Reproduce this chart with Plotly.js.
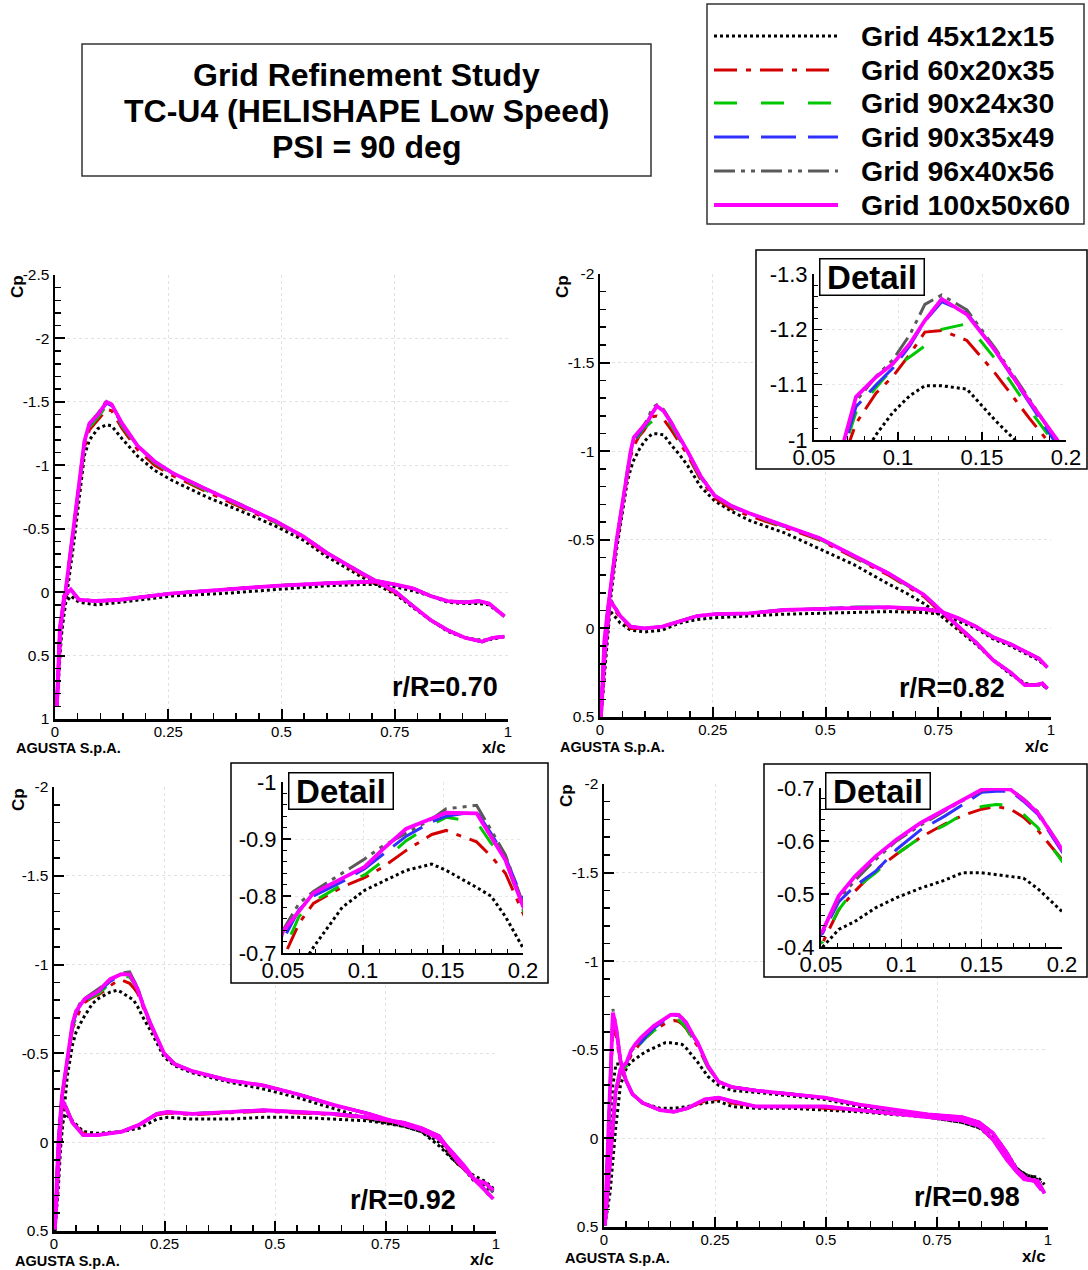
<!DOCTYPE html>
<html><head><meta charset="utf-8">
<script src="https://cdn.plot.ly/plotly-3.0.1.min.js"></script>
<style>html,body{margin:0;padding:0;background:#fff;}#chart{width:1088px;height:1270px;}</style>
</head><body><div id="chart"></div>
<script>
// ---------------- DATA ----------------
const titleLines = ['Grid Refinement Study', 'TC-U4 (HELISHAPE Low Speed)', 'PSI = 90 deg'];
const gridNames = ['Grid 45x12x15', 'Grid 60x20x35', 'Grid 90x24x30', 'Grid 90x35x49', 'Grid 96x40x56', 'Grid 100x50x60'];
const stationLabels = ['r/R=0.70', 'r/R=0.82', 'r/R=0.92', 'r/R=0.98'];
const xTicksMain = [0, 0.25, 0.5, 0.75, 1];
const yTicks070 = [-2.5, -2, -1.5, -1, -0.5, 0, 0.5, 1];
const yTicksMain = [-2, -1.5, -1, -0.5, 0, 0.5];
const xTicksDetail = [0.05, 0.1, 0.15, 0.2];
const yTicksDetail082 = [-1.3, -1.2, -1.1, -1];
const yTicksDetail092 = [-1, -0.9, -0.8, -0.7];
const yTicksDetail098 = [-0.7, -0.6, -0.5, -0.4];

// r/R = 0.70
const x070Up = [0.004,0.011,0.023,0.042,0.065,0.076,0.095,0.114,0.125,0.148,0.183,0.22,0.259,0.335,0.41,0.487,0.548,0.60,0.677,0.753,0.79,0.829,0.867,0.905,0.943,0.966,0.992];
const cp070Up45  = [0.90,0.40,0.10,-0.40,-1.08,-1.20,-1.29,-1.32,-1.31,-1.21,-1.07,-0.96,-0.88,-0.75,-0.64,-0.52,-0.41,-0.28,-0.12,0.02,0.12,0.22,0.31,0.36,0.38,0.37,0.35];
const cp070Up60  = [0.90,0.29,0.02,-0.49,-1.14,-1.28,-1.36,-1.44,-1.43,-1.29,-1.12,-1.00,-0.92,-0.79,-0.67,-0.55,-0.43,-0.30,-0.14,0.01,0.11,0.22,0.30,0.36,0.39,0.36,0.35];
const cp070Up90a = [0.90,0.28,0.01,-0.50,-1.16,-1.30,-1.38,-1.47,-1.45,-1.31,-1.14,-1.02,-0.93,-0.80,-0.68,-0.55,-0.44,-0.31,-0.15,0.0,0.11,0.22,0.30,0.36,0.39,0.36,0.35];
const cp070Up90b = [0.90,0.27,0.0,-0.52,-1.18,-1.32,-1.40,-1.49,-1.47,-1.32,-1.15,-1.03,-0.94,-0.81,-0.69,-0.56,-0.44,-0.31,-0.15,0.0,0.11,0.22,0.30,0.36,0.39,0.36,0.35];
const cp070Up96  = [0.90,0.27,0.0,-0.52,-1.19,-1.33,-1.41,-1.51,-1.48,-1.33,-1.15,-1.03,-0.94,-0.81,-0.69,-0.56,-0.44,-0.31,-0.15,0.0,0.11,0.22,0.30,0.36,0.39,0.36,0.35];
const cp070Up100 = [0.90,0.27,0.0,-0.52,-1.19,-1.33,-1.40,-1.50,-1.48,-1.33,-1.15,-1.03,-0.94,-0.81,-0.69,-0.56,-0.44,-0.31,-0.15,0.0,0.11,0.22,0.30,0.36,0.39,0.36,0.35];
const x070Lo = [0.004,0.012,0.02,0.035,0.053,0.091,0.144,0.259,0.373,0.487,0.60,0.677,0.715,0.753,0.79,0.829,0.867,0.905,0.935,0.958,0.992];
const cp070Lo45  = [0.90,0.45,0.10,0.03,0.08,0.10,0.08,0.03,0.01,-0.02,-0.05,-0.06,-0.06,-0.04,-0.01,0.03,0.08,0.09,0.09,0.10,0.19];
const cp070Lo60  = [0.90,0.32,0.04,-0.01,0.06,0.07,0.06,0.01,-0.02,-0.05,-0.07,-0.08,-0.08,-0.06,-0.03,0.03,0.07,0.08,0.07,0.09,0.19];
const cp070Lo90a = [0.90,0.31,0.03,-0.02,0.06,0.07,0.06,0.01,-0.02,-0.05,-0.07,-0.085,-0.085,-0.06,-0.03,0.03,0.07,0.08,0.07,0.09,0.19];
const cp070Lo90b = [0.90,0.30,0.03,-0.02,0.06,0.07,0.06,0.01,-0.02,-0.05,-0.07,-0.085,-0.085,-0.06,-0.03,0.03,0.07,0.08,0.07,0.09,0.19];
const cp070Lo96  = [0.90,0.30,0.03,-0.02,0.06,0.07,0.06,0.01,-0.02,-0.05,-0.07,-0.085,-0.085,-0.06,-0.03,0.03,0.07,0.08,0.075,0.09,0.19];
const cp070Lo100 = [0.90,0.30,0.03,-0.02,0.06,0.07,0.06,0.01,-0.02,-0.05,-0.07,-0.085,-0.085,-0.06,-0.03,0.03,0.07,0.08,0.07,0.09,0.19];

// r/R = 0.82
const x082Up = [0.002,0.01,0.018,0.037,0.06,0.068,0.075,0.087,0.097,0.107,0.116,0.126,0.141,0.158,0.178,0.194,0.223,0.254,0.292,0.331,0.408,0.486,0.563,0.64,0.679,0.718,0.756,0.795,0.834,0.872,0.911,0.942,0.965,0.981,0.992];
const cp082Up45  = [0.50,0.25,-0.05,-0.45,-0.82,-0.90,-0.95,-1.01,-1.05,-1.08,-1.098,-1.098,-1.092,-1.035,-0.975,-0.92,-0.80,-0.72,-0.66,-0.61,-0.54,-0.45,-0.36,-0.25,-0.20,-0.14,-0.07,0.01,0.09,0.18,0.26,0.31,0.32,0.32,0.34];
const cp082Up60  = [0.50,0.08,-0.10,-0.48,-0.85,-0.97,-1.03,-1.085,-1.115,-1.155,-1.195,-1.198,-1.18,-1.12,-1.04,-0.98,-0.84,-0.735,-0.675,-0.635,-0.57,-0.50,-0.40,-0.30,-0.24,-0.18,-0.09,0.0,0.08,0.18,0.25,0.32,0.32,0.31,0.34];
const cp082Up90a = [0.50,0.07,-0.11,-0.49,-0.86,-0.985,-1.05,-1.095,-1.13,-1.15,-1.17,-1.20,-1.21,-1.146,-1.056,-0.99,-0.85,-0.745,-0.685,-0.645,-0.575,-0.505,-0.405,-0.305,-0.245,-0.185,-0.10,-0.01,0.08,0.18,0.25,0.32,0.32,0.31,0.34];
const cp082Up90b = [0.50,0.06,-0.12,-0.50,-0.87,-0.99,-1.06,-1.10,-1.13,-1.17,-1.215,-1.25,-1.23,-1.16,-1.068,-0.998,-0.86,-0.75,-0.69,-0.65,-0.58,-0.51,-0.41,-0.31,-0.25,-0.19,-0.10,-0.01,0.08,0.18,0.25,0.32,0.32,0.31,0.34];
const cp082Up96  = [0.50,0.06,-0.12,-0.50,-0.88,-1.0,-1.07,-1.115,-1.145,-1.19,-1.245,-1.262,-1.235,-1.165,-1.075,-1.0,-0.86,-0.75,-0.69,-0.65,-0.58,-0.51,-0.41,-0.31,-0.25,-0.19,-0.10,-0.01,0.08,0.18,0.25,0.32,0.32,0.31,0.34];
const cp082Up100 = [0.50,0.06,-0.12,-0.50,-0.87,-1.0,-1.078,-1.114,-1.138,-1.174,-1.216,-1.255,-1.227,-1.161,-1.071,-1.0,-0.86,-0.75,-0.69,-0.65,-0.58,-0.51,-0.41,-0.31,-0.25,-0.19,-0.10,-0.01,0.08,0.18,0.25,0.32,0.32,0.31,0.34];
const x082Lo = [0.002,0.01,0.022,0.045,0.068,0.099,0.138,0.176,0.215,0.254,0.331,0.408,0.486,0.563,0.64,0.718,0.756,0.795,0.834,0.872,0.911,0.95,0.973,0.992];
const cp082Lo45  = [0.50,0.25,-0.10,-0.03,0.01,0.02,0.01,-0.03,-0.05,-0.06,-0.07,-0.08,-0.085,-0.09,-0.095,-0.09,-0.08,-0.04,0.0,0.06,0.10,0.15,0.18,0.22];
const cp082Lo60  = [0.50,0.18,-0.14,-0.06,0.0,0.0,-0.01,-0.04,-0.07,-0.08,-0.085,-0.10,-0.11,-0.115,-0.115,-0.105,-0.09,-0.055,-0.01,0.05,0.09,0.14,0.17,0.22];
const cp082Lo90a = [0.50,0.17,-0.15,-0.065,-0.01,0.0,-0.01,-0.04,-0.07,-0.08,-0.085,-0.105,-0.11,-0.12,-0.12,-0.11,-0.095,-0.057,-0.01,0.05,0.09,0.14,0.17,0.22];
const cp082Lo90b = [0.50,0.16,-0.16,-0.07,-0.01,0.0,-0.01,-0.04,-0.07,-0.08,-0.085,-0.105,-0.11,-0.12,-0.12,-0.11,-0.095,-0.057,-0.01,0.05,0.09,0.14,0.17,0.22];
const cp082Lo96  = [0.50,0.15,-0.17,-0.07,-0.01,0.0,-0.01,-0.04,-0.07,-0.08,-0.085,-0.105,-0.11,-0.12,-0.12,-0.11,-0.095,-0.057,-0.01,0.05,0.09,0.14,0.17,0.22];
const cp082Lo100 = [0.50,0.16,-0.16,-0.07,-0.01,0.0,-0.01,-0.04,-0.07,-0.08,-0.085,-0.105,-0.11,-0.12,-0.12,-0.11,-0.095,-0.057,-0.01,0.05,0.09,0.14,0.17,0.22];

// r/R = 0.92
const x092Up = [0.002,0.01,0.018,0.03,0.042,0.05,0.06,0.069,0.087,0.101,0.112,0.127,0.143,0.152,0.171,0.18,0.189,0.2,0.218,0.249,0.273,0.313,0.393,0.473,0.552,0.632,0.712,0.791,0.831,0.871,0.895,0.927,0.951,0.975,0.994];
const cp092Up45  = [0.50,0.12,-0.05,-0.37,-0.55,-0.62,-0.67,-0.71,-0.78,-0.81,-0.825,-0.845,-0.856,-0.845,-0.815,-0.80,-0.764,-0.709,-0.63,-0.48,-0.43,-0.39,-0.34,-0.30,-0.25,-0.19,-0.13,-0.09,-0.06,0.02,0.08,0.15,0.22,0.25,0.28];
const cp092Up60  = [0.49,0.02,-0.24,-0.45,-0.64,-0.69,-0.752,-0.787,-0.816,-0.832,-0.85,-0.88,-0.908,-0.915,-0.895,-0.87,-0.84,-0.77,-0.66,-0.50,-0.44,-0.40,-0.35,-0.32,-0.27,-0.21,-0.16,-0.10,-0.07,-0.02,0.05,0.14,0.21,0.27,0.33];
const cp092Up90a = [0.49,0.01,-0.25,-0.46,-0.65,-0.70,-0.764,-0.79,-0.82,-0.837,-0.86,-0.897,-0.925,-0.938,-0.93,-0.893,-0.863,-0.776,-0.665,-0.50,-0.44,-0.40,-0.35,-0.32,-0.27,-0.21,-0.16,-0.10,-0.07,-0.02,0.04,0.13,0.21,0.27,0.32];
const cp092Up90b = [0.49,0.0,-0.26,-0.47,-0.66,-0.723,-0.776,-0.80,-0.825,-0.848,-0.872,-0.905,-0.93,-0.94,-0.948,-0.91,-0.868,-0.79,-0.67,-0.50,-0.44,-0.40,-0.35,-0.32,-0.27,-0.21,-0.16,-0.10,-0.07,-0.02,0.04,0.13,0.21,0.27,0.32];
const cp092Up96  = [0.49,0.0,-0.26,-0.47,-0.67,-0.74,-0.787,-0.808,-0.84,-0.865,-0.887,-0.91,-0.935,-0.953,-0.959,-0.916,-0.872,-0.787,-0.67,-0.50,-0.44,-0.40,-0.35,-0.32,-0.27,-0.21,-0.16,-0.10,-0.07,-0.02,0.04,0.13,0.21,0.27,0.32];
const cp092Up100 = [0.49,0.0,-0.26,-0.47,-0.67,-0.738,-0.773,-0.805,-0.831,-0.851,-0.881,-0.918,-0.936,-0.946,-0.945,-0.904,-0.863,-0.782,-0.67,-0.50,-0.44,-0.40,-0.35,-0.32,-0.27,-0.21,-0.16,-0.10,-0.07,-0.02,0.04,0.13,0.21,0.27,0.32];
const x092Lo = [0.002,0.01,0.018,0.026,0.042,0.066,0.098,0.154,0.194,0.233,0.257,0.313,0.393,0.473,0.552,0.632,0.712,0.791,0.831,0.871,0.911,0.951,0.975,0.994];
const cp092Lo45  = [0.50,0.25,-0.10,-0.16,-0.12,-0.06,-0.05,-0.06,-0.08,-0.13,-0.14,-0.13,-0.13,-0.14,-0.14,-0.13,-0.12,-0.09,-0.06,0.00,0.12,0.19,0.22,0.26];
const cp092Lo60  = [0.49,0.14,-0.20,-0.19,-0.11,-0.05,-0.04,-0.06,-0.10,-0.155,-0.165,-0.155,-0.165,-0.175,-0.165,-0.155,-0.135,-0.105,-0.075,-0.03,0.11,0.21,0.23,0.27];
const cp092Lo90a = [0.49,0.12,-0.22,-0.20,-0.11,-0.045,-0.04,-0.06,-0.10,-0.16,-0.17,-0.16,-0.17,-0.18,-0.17,-0.16,-0.14,-0.11,-0.08,-0.035,0.10,0.21,0.23,0.27];
const cp092Lo90b = [0.49,0.10,-0.24,-0.20,-0.11,-0.04,-0.04,-0.06,-0.10,-0.16,-0.17,-0.16,-0.17,-0.18,-0.17,-0.16,-0.14,-0.11,-0.08,-0.035,0.10,0.21,0.24,0.28];
const cp092Lo96  = [0.49,0.09,-0.25,-0.21,-0.11,-0.04,-0.04,-0.06,-0.10,-0.16,-0.17,-0.16,-0.17,-0.18,-0.17,-0.16,-0.14,-0.11,-0.08,-0.035,0.10,0.21,0.24,0.28];
const cp092Lo100 = [0.49,0.10,-0.24,-0.20,-0.11,-0.04,-0.04,-0.06,-0.10,-0.16,-0.17,-0.16,-0.17,-0.18,-0.17,-0.16,-0.14,-0.11,-0.08,-0.035,0.10,0.21,0.23,0.27];

// r/R = 0.98
const x098Up = [0.002,0.014,0.026,0.037,0.051,0.061,0.071,0.084,0.097,0.112,0.127,0.138,0.15,0.159,0.168,0.176,0.185,0.2,0.211,0.234,0.258,0.288,0.343,0.42,0.497,0.575,0.652,0.729,0.807,0.845,0.876,0.907,0.93,0.954,0.977,0.992];
const cp098Up45  = [0.49,0.30,-0.05,-0.30,-0.40,-0.433,-0.448,-0.474,-0.493,-0.511,-0.526,-0.54,-0.54,-0.536,-0.533,-0.53,-0.51,-0.467,-0.43,-0.35,-0.30,-0.27,-0.26,-0.24,-0.22,-0.18,-0.15,-0.12,-0.09,-0.06,-0.01,0.08,0.17,0.21,0.22,0.26];
const cp098Up60  = [0.49,0.14,-0.24,-0.37,-0.408,-0.47,-0.505,-0.545,-0.575,-0.607,-0.632,-0.648,-0.66,-0.665,-0.66,-0.645,-0.62,-0.565,-0.52,-0.40,-0.32,-0.29,-0.27,-0.25,-0.23,-0.19,-0.16,-0.135,-0.12,-0.09,-0.03,0.08,0.18,0.23,0.24,0.31];
const cp098Up90a = [0.49,0.13,-0.25,-0.38,-0.41,-0.47,-0.51,-0.54,-0.575,-0.607,-0.63,-0.65,-0.665,-0.669,-0.668,-0.65,-0.625,-0.562,-0.52,-0.40,-0.32,-0.29,-0.27,-0.25,-0.23,-0.19,-0.16,-0.135,-0.12,-0.09,-0.03,0.08,0.18,0.23,0.24,0.31];
const cp098Up90b = [0.49,0.12,-0.26,-0.39,-0.426,-0.485,-0.515,-0.543,-0.584,-0.621,-0.647,-0.668,-0.692,-0.694,-0.694,-0.675,-0.65,-0.58,-0.535,-0.41,-0.32,-0.29,-0.27,-0.25,-0.23,-0.19,-0.16,-0.135,-0.12,-0.09,-0.03,0.08,0.18,0.23,0.24,0.31];
const cp098Up96  = [0.49,0.12,-0.26,-0.39,-0.43,-0.49,-0.525,-0.565,-0.60,-0.63,-0.657,-0.676,-0.695,-0.699,-0.697,-0.68,-0.655,-0.585,-0.54,-0.41,-0.32,-0.29,-0.27,-0.25,-0.23,-0.19,-0.16,-0.135,-0.12,-0.09,-0.03,0.08,0.18,0.23,0.24,0.31];
const cp098Up100 = [0.49,0.12,-0.26,-0.39,-0.43,-0.496,-0.533,-0.571,-0.603,-0.634,-0.659,-0.678,-0.697,-0.699,-0.697,-0.678,-0.653,-0.584,-0.54,-0.41,-0.32,-0.29,-0.27,-0.25,-0.23,-0.19,-0.16,-0.135,-0.12,-0.09,-0.03,0.08,0.18,0.23,0.24,0.31];
const x098Lo = [0.002,0.01,0.016,0.02,0.027,0.037,0.049,0.064,0.087,0.126,0.157,0.188,0.227,0.258,0.288,0.343,0.42,0.497,0.575,0.652,0.729,0.807,0.845,0.876,0.907,0.93,0.946,0.969,0.985];
const cp098Lo45  = [0.49,0.10,-0.15,-0.30,-0.42,-0.42,-0.33,-0.25,-0.20,-0.17,-0.17,-0.18,-0.20,-0.21,-0.18,-0.17,-0.17,-0.16,-0.15,-0.135,-0.12,-0.09,-0.06,0.006,0.10,0.17,0.20,0.22,0.25];
const cp098Lo60  = [0.49,0.0,-0.45,-0.62,-0.58,-0.43,-0.33,-0.25,-0.20,-0.16,-0.15,-0.17,-0.21,-0.22,-0.20,-0.18,-0.18,-0.17,-0.16,-0.14,-0.125,-0.10,-0.07,0.006,0.11,0.18,0.22,0.24,0.28];
const cp098Lo90a = [0.49,-0.03,-0.49,-0.66,-0.60,-0.44,-0.33,-0.25,-0.20,-0.16,-0.15,-0.17,-0.22,-0.23,-0.21,-0.18,-0.18,-0.18,-0.16,-0.14,-0.125,-0.10,-0.07,0.006,0.12,0.19,0.23,0.24,0.29];
const cp098Lo90b = [0.49,-0.06,-0.52,-0.69,-0.62,-0.44,-0.33,-0.25,-0.20,-0.16,-0.15,-0.17,-0.22,-0.23,-0.21,-0.18,-0.18,-0.18,-0.16,-0.14,-0.125,-0.10,-0.07,0.006,0.12,0.19,0.23,0.24,0.29];
const cp098Lo96  = [0.49,-0.08,-0.56,-0.73,-0.64,-0.45,-0.33,-0.25,-0.20,-0.16,-0.15,-0.17,-0.22,-0.23,-0.21,-0.18,-0.18,-0.18,-0.16,-0.14,-0.125,-0.10,-0.07,0.006,0.12,0.19,0.23,0.24,0.29];
const cp098Lo100 = [0.49,-0.07,-0.54,-0.71,-0.63,-0.44,-0.33,-0.25,-0.20,-0.16,-0.15,-0.17,-0.22,-0.23,-0.21,-0.18,-0.18,-0.18,-0.16,-0.14,-0.125,-0.10,-0.07,0.006,0.12,0.19,0.23,0.24,0.29];

const panelData = [
  {surfaces: [
    {x: x070Up, cp: [cp070Up45, cp070Up60, cp070Up90a, cp070Up90b, cp070Up96, cp070Up100]},
    {x: x070Lo, cp: [cp070Lo45, cp070Lo60, cp070Lo90a, cp070Lo90b, cp070Lo96, cp070Lo100]}]},
  {surfaces: [
    {x: x082Up, cp: [cp082Up45, cp082Up60, cp082Up90a, cp082Up90b, cp082Up96, cp082Up100]},
    {x: x082Lo, cp: [cp082Lo45, cp082Lo60, cp082Lo90a, cp082Lo90b, cp082Lo96, cp082Lo100]}]},
  {surfaces: [
    {x: x092Up, cp: [cp092Up45, cp092Up60, cp092Up90a, cp092Up90b, cp092Up96, cp092Up100]},
    {x: x092Lo, cp: [cp092Lo45, cp092Lo60, cp092Lo90a, cp092Lo90b, cp092Lo96, cp092Lo100]}]},
  {surfaces: [
    {x: x098Up, cp: [cp098Up45, cp098Up60, cp098Up90a, cp098Up90b, cp098Up96, cp098Up100]},
    {x: x098Lo, cp: [cp098Lo45, cp098Lo60, cp098Lo90a, cp098Lo90b, cp098Lo96, cp098Lo100]}]}
];

// ---------------- STYLE / GEOMETRY ----------------
const W = 1088, H = 1270;
const FONT = 'Liberation Sans, Arial, Helvetica, sans-serif';
const fx = p => p / W;
const fy = p => 1 - p / H;

const lineStyles = [
  {color: '#000000', dash: 'dot', width: 3},
  {color: '#d40000', dash: '23px,9px,5px,9px', width: 3},
  {color: '#00c800', dash: '23px,24px', width: 3},
  {color: '#3030ff', dash: '35px,12px', width: 3},
  {color: '#5a5a5a', dash: '21px,6px,4px,6px,4px,6px', width: 3},
  {color: '#ff00ff', dash: 'solid', width: 3.8}
];

const geom = [
  {plot: [55, 508, 275, 719], yRange: [1, -2.5], yTicks: yTicks070, cp: [18, 287], xc: [508, 747], ag: [14, 748], rr: [500, 687], inset: null},
  {plot: [600, 1051, 274, 717], yRange: [0.5, -2], yTicks: yTicksMain, cp: [563, 287], xc: [1051, 746], ag: [558, 747], rr: [1007, 688],
   inset: {plot: [814, 1066, 274, 440], box: [756, 1087, 250, 469], yRange: [-1, -1.3], yTicks: yTicksDetail082, detail: [872, 277]}},
  {plot: [54, 496, 787, 1231], yRange: [0.5, -2], yTicks: yTicksMain, cp: [18, 800], xc: [496, 1259], ag: [13, 1261], rr: [458, 1200],
   inset: {plot: [283, 523, 782, 953], box: [231, 548, 763, 983], yRange: [-0.7, -1.0], yTicks: yTicksDetail092, detail: [341, 791]}},
  {plot: [604, 1048, 784, 1227], yRange: [0.5, -2], yTicks: yTicksMain, cp: [566, 796], xc: [1048, 1256], ag: [563, 1258], rr: [1022, 1197],
   inset: {plot: [821, 1062, 788, 947], box: [764, 1087, 764, 977], yRange: [-0.4, -0.7], yTicks: yTicksDetail098, detail: [878, 791]}}
];
const titleBox = [82, 651, 44, 176];
const titleRowsY = [75, 111, 147];
const legendBox = [707, 1084, 4, 224];
const legendRowsY = [36, 70, 103, 137, 171, 205];
const legendSample = [714, 838];
const legendTextX = 859;

// ---------------- BUILD ----------------
const traces = [];
const layout = {
  width: W, height: H, autosize: false,
  margin: {l: 0, r: 0, t: 0, b: 0},
  paper_bgcolor: '#ffffff', plot_bgcolor: '#ffffff',
  showlegend: false,
  font: {family: FONT, color: '#000'},
  shapes: [], annotations: []
};
const aid = n => (n === 1 ? '' : String(n));

function mainAxes(g, n) {
  const id = aid(n);
  layout['xaxis' + id] = {
    domain: [fx(g.plot[0]), fx(g.plot[1])], anchor: 'y' + id, range: [0, 1],
    tickmode: 'array', tickvals: xTicksMain, ticktext: xTicksMain.map(String),
    ticks: 'inside', ticklen: 10, tickwidth: 2, tickcolor: '#000', ticklabelstandoff: -3,
    showline: true, linecolor: '#000', linewidth: 2.5,
    showgrid: true, gridcolor: '#e2e2e2', griddash: 'dot', gridwidth: 1,
    zeroline: false, fixedrange: true,
    tickfont: {family: FONT, size: 15, color: '#000'},
    minor: {tickmode: 'linear', tick0: 0, dtick: 0.05, ticks: 'inside', ticklen: 6, tickwidth: 1.5, tickcolor: '#000', showgrid: false}
  };
  layout['yaxis' + id] = {
    domain: [fy(g.plot[3]), fy(g.plot[2])], anchor: 'x' + id, range: g.yRange,
    tickmode: 'array', tickvals: g.yTicks, ticktext: g.yTicks.map(String),
    ticks: 'inside', ticklen: 10, tickwidth: 2, tickcolor: '#000',
    showline: true, linecolor: '#000', linewidth: 2.5,
    showgrid: true, gridcolor: '#e2e2e2', griddash: 'dot', gridwidth: 1,
    zeroline: false, fixedrange: true,
    tickfont: {family: FONT, size: 15.5, color: '#000'},
    minor: {tickmode: 'linear', tick0: 0, dtick: 0.1, ticks: 'inside', ticklen: 6, tickwidth: 1.5, tickcolor: '#000', showgrid: false}
  };
}

function insetAxes(ins, n) {
  const id = aid(n);
  layout['xaxis' + id] = {
    domain: [fx(ins.plot[0]), fx(ins.plot[1])], anchor: 'y' + id, range: [0.05, 0.2],
    tickmode: 'array', tickvals: xTicksDetail, ticktext: xTicksDetail.map(String),
    ticks: 'inside', ticklen: 8, tickwidth: 1.5, tickcolor: '#000', ticklabelstandoff: -3,
    showline: true, linecolor: '#000', linewidth: 2,
    showgrid: true, gridcolor: '#e6e6e6', griddash: 'dot', gridwidth: 1,
    zeroline: false, fixedrange: true,
    tickfont: {family: FONT, size: 22, color: '#000'},
    minor: {tickmode: 'linear', tick0: 0.05, dtick: 0.01, ticks: 'inside', ticklen: 4, tickwidth: 1, tickcolor: '#000', showgrid: false}
  };
  layout['yaxis' + id] = {
    domain: [fy(ins.plot[3]), fy(ins.plot[2])], anchor: 'x' + id, range: ins.yRange,
    tickmode: 'array', tickvals: ins.yTicks, ticktext: ins.yTicks.map(String),
    ticks: 'inside', ticklen: 8, tickwidth: 1.5, tickcolor: '#000',
    showline: true, linecolor: '#000', linewidth: 2,
    showgrid: true, gridcolor: '#e6e6e6', griddash: 'dot', gridwidth: 1,
    zeroline: false, fixedrange: true,
    tickfont: {family: FONT, size: 22, color: '#000'},
    minor: {tickmode: 'linear', tick0: 0, dtick: 0.02, ticks: 'inside', ticklen: 4, tickwidth: 1, tickcolor: '#000', showgrid: false}
  };
}

function addCurves(p, n) {
  const id = aid(n);
  gridNames.forEach((name, k) => {
    p.surfaces.forEach(s => {
      traces.push({
        type: 'scatter', mode: 'lines', name: name,
        x: s.x, y: s.cp[k], xaxis: 'x' + id, yaxis: 'y' + id,
        line: {color: lineStyles[k].color, dash: lineStyles[k].dash, width: lineStyles[k].width},
        hoverinfo: 'skip', showlegend: false
      });
    });
  });
}

const boldFont = (size) => ({family: FONT, size: size, color: '#000', weight: 'bold'});
function ann(text, px, py, size, opts) {
  return Object.assign({text: text, x: fx(px), y: fy(py), xref: 'paper', yref: 'paper',
    showarrow: false, xanchor: 'center', yanchor: 'middle', font: boldFont(size)}, opts || {});
}

// main panels
geom.forEach((g, i) => {
  mainAxes(g, i + 1);
  addCurves(panelData[i], i + 1);
  layout.annotations.push(ann('Cp', g.cp[0], g.cp[1], 17, {textangle: -90}));
  layout.annotations.push(ann('x/c', g.xc[0], g.xc[1], 17, {xanchor: 'right'}));
  layout.annotations.push(ann('AGUSTA S.p.A.', g.ag[0], g.ag[1], 14.5, {xanchor: 'left'}));
  layout.annotations.push(ann(stationLabels[i], g.rr[0], g.rr[1], 27, {xanchor: 'right'}));
});

// inset covers (white background hiding the main grid) then insets
let coverN = 5, insetN = 8;
geom.forEach((g) => {
  if (!g.inset) return;
  const ins = g.inset;
  const cid = aid(coverN);
  layout['xaxis' + cid] = {domain: [fx(ins.box[0]), fx(ins.box[1])], anchor: 'y' + cid, range: [0, 1], visible: false, fixedrange: true};
  layout['yaxis' + cid] = {domain: [fy(ins.box[3]), fy(ins.box[2])], anchor: 'x' + cid, range: [0, 1], visible: false, fixedrange: true};
  traces.push({type: 'scatter', mode: 'lines', x: [], y: [], xaxis: 'x' + cid, yaxis: 'y' + cid, hoverinfo: 'skip', showlegend: false});
  coverN++;
});
geom.forEach((g, i) => {
  if (!g.inset) return;
  const ins = g.inset;
  insetAxes(ins, insetN);
  addCurves(panelData[i], insetN);
  insetN++;
  layout.shapes.push({type: 'rect', xref: 'paper', yref: 'paper', layer: 'above',
    x0: fx(ins.box[0]), x1: fx(ins.box[1]), y0: fy(ins.box[3]), y1: fy(ins.box[2]),
    line: {color: '#000', width: 1.5}, fillcolor: 'rgba(0,0,0,0)'});
  layout.annotations.push(ann('Detail', ins.detail[0], ins.detail[1], 33,
    {bgcolor: '#ffffff', bordercolor: '#000', borderwidth: 1.5, borderpad: 1.5, width: 100, height: 32}));
});

// title box
layout.shapes.push({type: 'rect', xref: 'paper', yref: 'paper', layer: 'above',
  x0: fx(titleBox[0]), x1: fx(titleBox[1]), y0: fy(titleBox[3]), y1: fy(titleBox[2]),
  line: {color: '#333', width: 1.5}, fillcolor: 'rgba(0,0,0,0)'});
titleLines.forEach((t, i) => {
  layout.annotations.push(ann(t, (titleBox[0] + titleBox[1]) / 2, titleRowsY[i], 32));
});

// legend box
layout.shapes.push({type: 'rect', xref: 'paper', yref: 'paper', layer: 'above',
  x0: fx(legendBox[0]), x1: fx(legendBox[1]), y0: fy(legendBox[3]), y1: fy(legendBox[2]),
  line: {color: '#333', width: 1.5}, fillcolor: 'rgba(0,0,0,0)'});
gridNames.forEach((name, k) => {
  layout.shapes.push({type: 'line', xref: 'paper', yref: 'paper', layer: 'above',
    x0: fx(legendSample[0]), x1: fx(legendSample[1]), y0: fy(legendRowsY[k]), y1: fy(legendRowsY[k]),
    line: {color: lineStyles[k].color, dash: lineStyles[k].dash, width: lineStyles[k].width}});
  layout.annotations.push(ann(name, legendTextX, legendRowsY[k], 28.5, {xanchor: 'left'}));
});

Plotly.newPlot('chart', traces, layout, {staticPlot: true, displayModeBar: false});
</script>
</body></html>
